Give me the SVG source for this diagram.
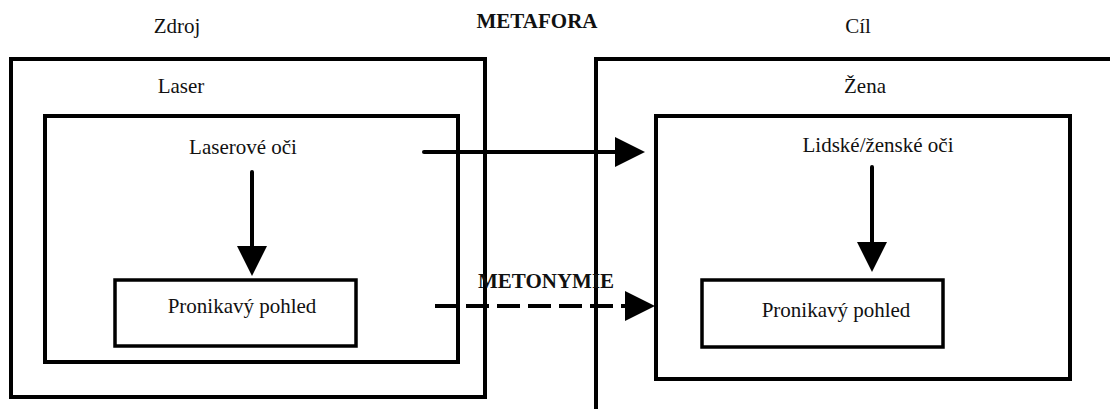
<svg xmlns="http://www.w3.org/2000/svg" width="1110" height="409" viewBox="0 0 1110 409">
<style>
.box{fill:none;stroke:#000;stroke-width:4}
.sbox{fill:none;stroke:#000;stroke-width:3.5}
.t{font-family:"Liberation Serif","Times New Roman",serif;font-size:21px;fill:#111;text-anchor:middle}
.b{font-weight:bold}
.ln{stroke:#000;stroke-width:4;fill:none;stroke-linecap:round}
.dash{stroke-dasharray:23 8;stroke-linecap:butt}
</style>
<defs>
<marker id="ah" viewBox="0 0 30 30" refX="1" refY="15" markerWidth="30" markerHeight="30" markerUnits="userSpaceOnUse" orient="auto">
<path d="M0,0 L30,15 L0,30 Z" fill="#000"/>
</marker>
</defs>
<rect width="1110" height="409" fill="#fff"/>
<text class="t b" x="537" y="28">METAFORA</text>
<g id="source">
<rect class="box" x="11" y="59" width="474" height="338"/>
<text class="t" x="177" y="33">Zdroj</text>
<text class="t" x="181" y="93">Laser</text>
</g>
<g id="laser-eyes">
<rect class="box" x="45" y="116" width="413" height="246"/>
<text class="t" x="243" y="154">Laserové oči</text>
</g>
<g id="laser-gaze">
<rect class="sbox" x="115" y="280" width="241" height="66"/>
<text class="t" x="242" y="313">Pronikavý pohled</text>
</g>
<g id="target">
<rect class="box" x="596" y="59" width="540" height="380"/>
<text class="t" x="858" y="33">Cíl</text>
<text class="t" x="865" y="93">Žena</text>
</g>
<g id="human-eyes">
<rect class="box" x="656" y="116" width="414" height="263"/>
<text class="t" x="878" y="152">Lidské/ženské oči</text>
</g>
<g id="human-gaze">
<rect class="sbox" x="702" y="280" width="241" height="67"/>
<text class="t" x="836" y="317">Pronikavý pohled</text>
</g>
<g id="connectors">
<line class="ln" x1="252" y1="172" x2="252" y2="247" marker-end="url(#ah)"/>
<line class="ln" x1="872" y1="167" x2="872" y2="243" marker-end="url(#ah)"/>
<line class="ln" x1="424" y1="152" x2="616" y2="152" marker-end="url(#ah)"/>
<line class="ln dash" x1="435" y1="306" x2="626" y2="306" marker-end="url(#ah)"/>
<text class="t b" x="546" y="288">METONYMIE</text>
</g>
</svg>
